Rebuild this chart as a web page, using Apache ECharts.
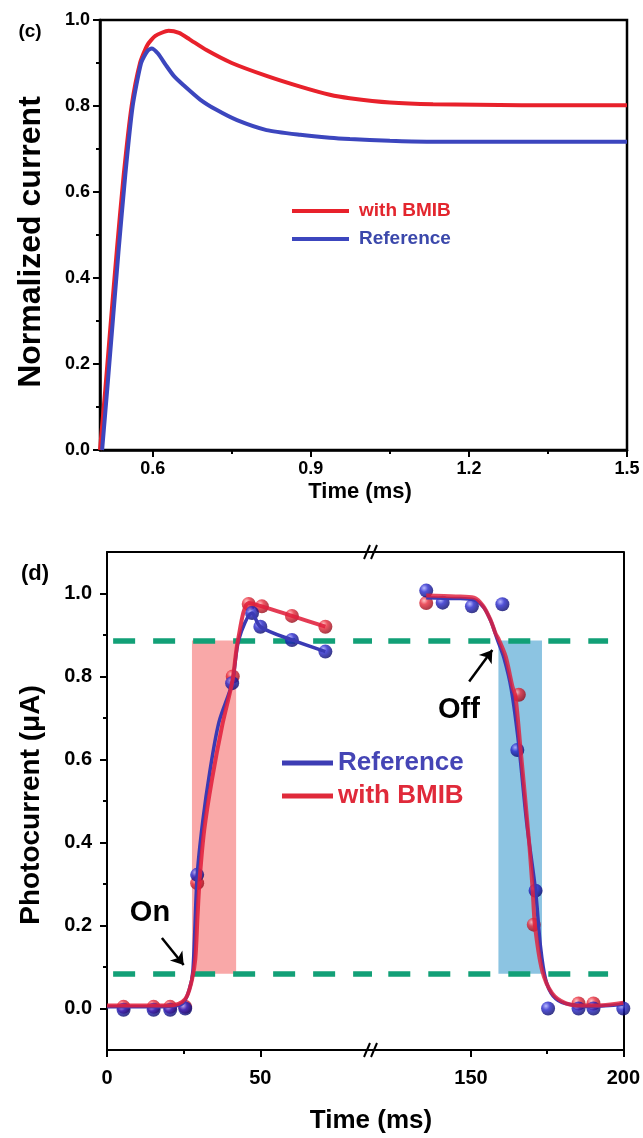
<!DOCTYPE html>
<html>
<head>
<meta charset="utf-8">
<script src="https://cdn.jsdelivr.net/npm/echarts@6.0.0/dist/echarts.min.js"></script>
<style>
  html, body { margin: 0; padding: 0; background: #fff; }
  #chart { width: 643px; height: 1138px; }
</style>
</head>
<body>
<div id="chart"></div>
<script>
// ---- Panel (c): normalized transient current ----
const cTimeTicks = [0.6, 0.9, 1.2, 1.5];
const cTimeMinorTicks = [0.75, 1.05, 1.35];
const cBmib = [
  [0.500, 0.000], [0.510, 0.140], [0.520, 0.290], [0.532, 0.465], [0.545, 0.640],
  [0.560, 0.800], [0.576, 0.900], [0.590, 0.942], [0.605, 0.963], [0.630, 0.975],
  [0.650, 0.970], [0.670, 0.955], [0.702, 0.930], [0.750, 0.900], [0.816, 0.870],
  [0.880, 0.845], [0.936, 0.826], [0.974, 0.818], [1.050, 0.808], [1.132, 0.804],
  [1.300, 0.802], [1.500, 0.802]
];
const cRef = [
  [0.504, 0.000], [0.515, 0.160], [0.535, 0.460], [0.548, 0.640], [0.562, 0.800],
  [0.578, 0.900], [0.590, 0.928], [0.598, 0.934], [0.610, 0.922], [0.625, 0.895],
  [0.640, 0.870], [0.658, 0.849], [0.690, 0.815], [0.721, 0.791], [0.760, 0.767],
  [0.816, 0.744], [0.880, 0.733], [0.936, 0.726], [0.974, 0.723], [1.050, 0.719],
  [1.120, 0.717], [1.500, 0.717]
];

// ---- Panel (d): photocurrent on/off response (broken time axis) ----
const dOnTicks = [0, 50];
const dOnMinorTicks = [25];
const dOffTicks = [150, 200];
const dOffMinorTicks = [175];
const dCurrentTicks = [0, 0.2, 0.4, 0.6, 0.8, 1.0];
const dCurrentMinorTicks = [0.1, 0.3, 0.5, 0.7, 0.9];
const thresholds = [0.887, 0.084];           // 90 % and 10 % levels
const onSpan = [27.7, 42.1];                 // rise time window (ms)
const offSpan = [159.0, 173.3];              // decay time window (ms)

const onRefPts = [[5.4, -0.003], [15.2, -0.003], [20.6, -0.003], [25.5, 0.000], [29.4, 0.322],
  [40.8, 0.784], [47.3, 0.953], [50.0, 0.920], [60.3, 0.888], [71.2, 0.860]];
const onBmibPts = [[5.4, 0.004], [15.2, 0.004], [20.6, 0.004], [25.5, 0.004], [29.4, 0.302],
  [41.0, 0.800], [46.2, 0.975], [50.5, 0.969], [60.3, 0.946], [71.2, 0.920]];
const offRefPts = [[135.3, 1.007], [140.7, 0.978], [150.3, 0.969], [160.3, 0.974], [165.2, 0.623],
  [171.2, 0.284], [175.3, 0.000], [185.3, 0.000], [190.2, 0.000], [200.0, 0.000]];
const offBmibPts = [[135.3, 0.977], [165.7, 0.756], [170.6, 0.202], [185.3, 0.012], [190.2, 0.012]];

const onRefFit = [[0, 0.004], [12, 0.004], [22, 0.006], [25, 0.015], [26.8, 0.045], [28.0, 0.090],
  [29.4, 0.320], [31.2, 0.450], [33.5, 0.570], [36.5, 0.690], [40.8, 0.784], [43.0, 0.890],
  [47.3, 0.953], [50.0, 0.920], [60.3, 0.888], [71.2, 0.860]];
const onBmibFit = [[0, 0.007], [12, 0.007], [21.7, 0.008], [24.5, 0.016], [26.1, 0.030], [27.7, 0.069],
  [28.8, 0.120], [29.5, 0.220], [30.2, 0.310], [31.7, 0.430], [34.2, 0.551], [37.5, 0.680],
  [40.9, 0.790], [42.7, 0.888], [46.2, 0.977], [50.5, 0.969], [60.3, 0.946], [71.2, 0.920]];
const offRefFit = [[135.3, 0.990], [145, 0.988], [151, 0.985], [154.3, 0.965], [156.7, 0.930],
  [158.6, 0.890], [160.8, 0.845], [163.2, 0.770], [165.6, 0.640], [168.4, 0.440], [171.2, 0.284],
  [172.8, 0.150], [174.5, 0.070], [177, 0.030], [181, 0.012], [190, 0.005], [200, 0.010]];
const offBmibFit = [[135.3, 0.995], [145, 0.993], [151, 0.990], [154, 0.970], [156.5, 0.935],
  [158, 0.905], [159.2, 0.888], [161.4, 0.848], [163.6, 0.776], [164.6, 0.752], [166.3, 0.623],
  [169, 0.407], [170.2, 0.290], [171, 0.200], [173.3, 0.093], [176.6, 0.037], [181, 0.013],
  [186.4, 0.007], [193, 0.008], [200, 0.014]];

// arrow annotations (tail -> head) in data units
const onArrow = [[17.9, 0.170], [25.0, 0.105]];
const offArrow = [[149.4, 0.788], [157.0, 0.864]];

// ---- layout ----
const FONT = '"Liberation Sans", Arial, sans-serif';
const GC = { left: 100, top: 20, width: 527, height: 430 };
const GL = { left: 107, top: 552, width: 265, height: 498 };
const GR = { left: 372, top: 552, width: 253, height: 498 };
const ON_MAX = 86.4, OFF_MIN = 117.5;

const RED_C = '#e8212b', BLUE_C = '#3c46be';
const RED_D = '#e0203c', BLUE_D = '#3a3ab4';

function ball(light, mid, dark) {
  return new echarts.graphic.RadialGradient(0.35, 0.32, 0.7, [
    { offset: 0, color: light }, { offset: 0.4, color: mid }, { offset: 1, color: dark }
  ]);
}
const blueBall = ball('#a8a8ff', '#2626cc', '#08086a');
const redBall = ball('#ffb8b8', '#e82a3a', '#950818');

const black = '#000';
function labelStyle(size, extra) {
  return Object.assign({ color: black, fontSize: size, fontWeight: 'bold', fontFamily: FONT }, extra || {});
}
function mainAxisLine(w) { return { show: true, onZero: false, lineStyle: { color: black, width: w } }; }
const noLine = { show: false, onZero: false };

function minorAxis(grid, min, max, values, pos) {
  return {
    type: 'value', gridIndex: grid, min: min, max: max, position: pos,
    axisLine: noLine, axisLabel: { show: false }, splitLine: { show: false },
    axisTick: { show: true, customValues: values, length: 4, lineStyle: { color: black, width: 2 } }
  };
}
function frameAxis(grid, min, max, pos) {
  return {
    type: 'value', gridIndex: grid, min: min, max: max, position: pos,
    axisLine: mainAxisLine(2), axisTick: { show: false }, axisLabel: { show: false }, splitLine: { show: false }
  };
}

const xAxis = [
  { // 0: panel c time
    type: 'value', gridIndex: 0, min: 0.5, max: 1.5, position: 'bottom',
    axisLine: mainAxisLine(2.5),
    axisTick: { customValues: cTimeTicks, length: 7, lineStyle: { color: black, width: 2 } },
    axisLabel: labelStyle(18, { customValues: cTimeTicks, margin: 10, formatter: v => v.toFixed(1) }),
    splitLine: { show: false }
  },
  minorAxis(0, 0.5, 1.5, cTimeMinorTicks, 'bottom'), // 1
  { // 2: panel d, light-on segment
    type: 'value', gridIndex: 1, min: 0, max: ON_MAX, position: 'bottom',
    axisLine: mainAxisLine(2),
    axisTick: { customValues: dOnTicks, length: 7, lineStyle: { color: black, width: 2 } },
    axisLabel: labelStyle(20, { customValues: dOnTicks, margin: 18, formatter: v => String(v) }),
    splitLine: { show: false }
  },
  minorAxis(1, 0, ON_MAX, dOnMinorTicks, 'bottom'),  // 3
  frameAxis(1, 0, ON_MAX, 'top'),                   // 4
  { // 5: panel d, light-off segment
    type: 'value', gridIndex: 2, min: OFF_MIN, max: 200, position: 'bottom',
    axisLine: mainAxisLine(2),
    axisTick: { customValues: dOffTicks, length: 7, lineStyle: { color: black, width: 2 } },
    axisLabel: labelStyle(20, { customValues: dOffTicks, margin: 18, formatter: v => String(v) }),
    splitLine: { show: false }
  },
  minorAxis(2, OFF_MIN, 200, dOffMinorTicks, 'bottom'), // 6
  frameAxis(2, OFF_MIN, 200, 'top')                   // 7
];

const yAxis = [
  { // 0: panel c normalized current
    type: 'value', gridIndex: 0, min: 0, max: 1, interval: 0.2, position: 'left',
    axisLine: mainAxisLine(2.5),
    axisTick: { length: 7, lineStyle: { color: black, width: 2 } },
    minorTick: { show: true, splitNumber: 2, length: 4, lineStyle: { color: black, width: 2 } },
    axisLabel: labelStyle(18, { margin: 10, formatter: v => v.toFixed(1) }),
    splitLine: { show: false }, minorSplitLine: { show: false }
  },
  { // 1: panel d photocurrent
    type: 'value', gridIndex: 1, min: -0.1, max: 1.1, position: 'left',
    axisLine: mainAxisLine(2),
    axisTick: { customValues: dCurrentTicks, length: 7, lineStyle: { color: black, width: 2 } },
    axisLabel: labelStyle(20, { customValues: dCurrentTicks, margin: 15, formatter: v => v.toFixed(1) }),
    splitLine: { show: false }
  },
  minorAxis(1, -0.1, 1.1, dCurrentMinorTicks, 'left'), // 2
  frameAxis(2, -0.1, 1.1, 'right')                    // 3
];

function fitLine(name, data, xi, yi, color, width, z, extra) {
  return Object.assign({
    type: 'line', name: name, xAxisIndex: xi, yAxisIndex: yi, data: data,
    smooth: 0.3, symbol: 'none', z: z, silent: true,
    lineStyle: { color: color, width: width }, itemStyle: { color: color },
    emphasis: { disabled: true }
  }, extra || {});
}
function points(name, data, xi, yi, fill, z) {
  return {
    type: 'scatter', name: name, xAxisIndex: xi, yAxisIndex: yi, data: data,
    symbolSize: 14, z: z, silent: true, clip: false,
    itemStyle: { color: fill }, emphasis: { disabled: true }
  };
}
function area(span, xi, yi, color) {
  return {
    type: 'line', name: 'window', xAxisIndex: xi, yAxisIndex: yi, data: [], z: 1, silent: true,
    markArea: {
      silent: true, itemStyle: { color: color },
      data: [[{ coord: [span[0], thresholds[1]] }, { coord: [span[1], thresholds[0]] }]]
    }
  };
}
function levels(xi, yi, x0, x1, offset) {
  return {
    type: 'line', name: 'levels', xAxisIndex: xi, yAxisIndex: yi, data: [], z: 2, silent: true,
    markLine: {
      silent: true, symbol: 'none', label: { show: false },
      lineStyle: { color: '#12a077', width: 5.5, type: [22, 18], dashOffset: offset, opacity: 1 },
      emphasis: { disabled: true },
      data: thresholds.map(t => [{ coord: [x0, t] }, { coord: [x1, t] }])
    }
  };
}
function arrow(pair, xi, yi) {
  return {
    type: 'line', name: 'arrow', xAxisIndex: xi, yAxisIndex: yi, data: [], z: 8, silent: true,
    itemStyle: { color: black },
    markLine: {
      silent: true, symbol: ['none', 'arrow'], symbolSize: 12, label: { show: false },
      itemStyle: { color: black },
      lineStyle: { color: black, width: 2.5, type: 'solid', opacity: 1 },
      emphasis: { disabled: true },
      data: [[{ coord: pair[0] }, { coord: pair[1] }]]
    }
  };
}

const series = [
  fitLine('with BMIB', cBmib, 0, 0, RED_C, 4, 3, { smooth: 0.2 }),
  fitLine('Reference', cRef, 0, 0, BLUE_C, 4, 4, { smooth: 0.2 }),

  area(onSpan, 2, 1, '#f9a8a8'),
  levels(2, 1, 2, ON_MAX, 0),
  points('with BMIB', onBmibPts, 2, 1, redBall, 4),
  points('Reference', onRefPts, 2, 1, blueBall, 5),
  fitLine('Reference', onRefFit, 2, 1, BLUE_D, 3.5, 6),
  fitLine('with BMIB', onBmibFit, 2, 1, RED_D, 4, 7, { lineStyle: { color: RED_D, width: 4, opacity: 0.88 } }),
  arrow(onArrow, 2, 1),

  area(offSpan, 5, 3, '#8cc4e2'),
  levels(5, 3, OFF_MIN, 195, 23.7),
  points('with BMIB', offBmibPts, 5, 3, redBall, 4),
  points('Reference', offRefPts, 5, 3, blueBall, 5),
  fitLine('Reference', offRefFit, 5, 3, BLUE_D, 3.5, 6),
  fitLine('with BMIB', offBmibFit, 5, 3, RED_D, 4, 7, { lineStyle: { color: RED_D, width: 4, opacity: 0.82 } }),
  arrow(offArrow, 5, 3)
];

function txt(text, x, y, size, extra) {
  return Object.assign({
    type: 'text', x: x, y: y, z: 50, silent: true,
    style: { text: text, fill: black, font: 'bold ' + size + 'px ' + FONT, align: 'center', verticalAlign: 'middle' }
  }, extra || {});
}

// axis break marks on the top and bottom frame lines of panel (d)
const breakX = GR.left;
function breakMark(y) {
  return {
    type: 'group', z: 60, silent: true,
    children: [
      { type: 'rect', shape: { x: breakX - 4, y: y - 3, width: 8, height: 6 }, style: { fill: '#fff' } },
      { type: 'line', shape: { x1: breakX - 8, y1: y + 7, x2: breakX - 2, y2: y - 7 }, style: { stroke: black, lineWidth: 2 } },
      { type: 'line', shape: { x1: breakX - 1, y1: y + 7, x2: breakX + 5, y2: y - 7 }, style: { stroke: black, lineWidth: 2 } }
    ]
  };
}

const graphic = [
  txt('(c)', 30, 32, 19),
  txt('Normalized current', 31, 242, 32, { rotation: Math.PI / 2 }),
  txt('Time (ms)', 360, 492, 22),
  txt('(d)', 35, 574, 22),
  txt('Photocurrent (\u03bcA)', 31, 805, 28, { rotation: Math.PI / 2 }),
  txt('Time (ms)', 371, 1121, 26),
  txt('On', 150, 913, 29),
  txt('Off', 459, 710, 29),
  breakMark(GL.top),
  breakMark(GL.top + GL.height)
];

const legend = [
  {
    left: 287, top: 196, orient: 'vertical', icon: 'rect', selectedMode: false,
    itemWidth: 57, itemHeight: 4, itemGap: 8,
    textStyle: { fontSize: 19, fontWeight: 'bold', fontFamily: FONT, lineHeight: 20, padding: [0, 0, 0, 5] },
    data: [
      { name: 'with BMIB', itemStyle: { color: RED_C, borderWidth: 0 }, lineStyle: { color: RED_C, width: 4 }, textStyle: { color: '#e3262e' } },
      { name: 'Reference', itemStyle: { color: BLUE_C, borderWidth: 0 }, lineStyle: { color: BLUE_C, width: 4 }, textStyle: { color: '#3b48ab' } }
    ]
  },
  {
    left: 277, top: 745, orient: 'vertical', icon: 'rect', selectedMode: false,
    itemWidth: 51, itemHeight: 5, itemGap: 7,
    textStyle: { fontSize: 26, fontWeight: 'bold', fontFamily: FONT, lineHeight: 26 },
    data: [
      { name: 'Reference', itemStyle: { color: '#3d3db4', borderWidth: 0 }, lineStyle: { color: '#3d3db4', width: 5 }, textStyle: { color: '#4545b5' } },
      { name: 'with BMIB', itemStyle: { color: '#e02a3a', borderWidth: 0 }, lineStyle: { color: '#e02a3a', width: 5 }, textStyle: { color: '#e02a3a' } }
    ]
  }
];

const chart = echarts.init(document.getElementById('chart'), null, { renderer: 'canvas' });
chart.setOption({
  backgroundColor: '#ffffff',
  animation: false,
  textStyle: { fontFamily: FONT },
  grid: [
    Object.assign({ show: true, borderColor: black, borderWidth: 2.5, backgroundColor: 'transparent' }, GC),
    Object.assign({}, GL),
    Object.assign({}, GR)
  ],
  xAxis: xAxis,
  yAxis: yAxis,
  legend: legend,
  series: series,
  graphic: graphic
});
</script>
</body>
</html>
